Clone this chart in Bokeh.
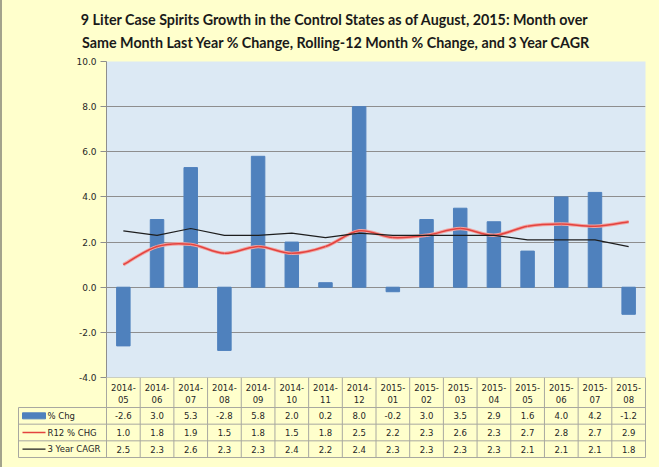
from bokeh.plotting import figure
from bokeh.models import FactorRange, Range1d, FixedTicker, NumeralTickFormatter
from bokeh.layouts import column
from bokeh.embed import file_html
from bokeh.resources import INLINE
from bokeh.core.properties import value
import numpy as np

# ---------------- data ----------------
months = ["2014-05", "2014-06", "2014-07", "2014-08", "2014-09", "2014-10", "2014-11", "2014-12",
          "2015-01", "2015-02", "2015-03", "2015-04", "2015-05", "2015-06", "2015-07", "2015-08"]
pct_chg = [-2.6, 3.0, 5.3, -2.8, 5.8, 2.0, 0.2, 8.0, -0.2, 3.0, 3.5, 2.9, 1.6, 4.0, 4.2, -1.2]
r12_chg = [1.0, 1.8, 1.9, 1.5, 1.8, 1.5, 1.8, 2.5, 2.2, 2.3, 2.6, 2.3, 2.7, 2.8, 2.7, 2.9]
cagr_3yr = [2.5, 2.3, 2.6, 2.3, 2.3, 2.4, 2.2, 2.4, 2.3, 2.3, 2.3, 2.3, 2.1, 2.1, 2.1, 1.8]
series_names = ["% Chg", "R12 % CHG", "3 Year CAGR"]
y_ticks = [-4, -2, 0, 2, 4, 6, 8, 10]
title_lines = ["9 Liter Case Spirits Growth in the Control States as of August, 2015:  Month over",
               "Same Month Last Year % Change, Rolling-12 Month % Change, and 3 Year CAGR"]

# ---------------- style ----------------
YELLOW = "#FFFFCC"
PLOT_BG = "#DCE9F4"
BAR = "#4F81BD"
RED = "#E3433F"
RED_HALO = "#F2A3A0"
DARK = "#1E1E1E"
GRID = "#8E8E8E"
TLINE = "#A8A8A0"
TXT = "#262626"
FONT = "DejaVu Sans"

W = 659
TITLE_H = 55
LEFT, RIGHT = 106, 14
FRAME_TOP, FRAME_BOT = 61, 377
TOP_PAD, BOT_PAD = FRAME_TOP - TITLE_H, 8
CH = TOP_PAD + (FRAME_BOT - FRAME_TOP) + BOT_PAD
TH = 90
n = len(months)


def bare(fig):
    fig.background_fill_color = None
    fig.border_fill_color = None
    fig.outline_line_color = None
    fig.xgrid.visible = False
    fig.ygrid.visible = False


# ---------------- title ----------------
tt = figure(width=W, height=TITLE_H, x_range=Range1d(0, W), y_range=Range1d(TITLE_H, 0),
            output_backend="svg", toolbar_location=None, title=None, x_axis_location=None,
            y_axis_location=None, min_border=0, align="start")
bare(tt)
tt.text(x=[336, 336], y=[19, 42], text=title_lines, text_align="center", text_baseline="middle",
        text_font=value("Lato"), text_font_size="14.3px", text_font_style="bold", text_color="#1A1A1A")

# ---------------- chart ----------------
p = figure(width=W, height=CH, x_range=FactorRange(factors=months), y_range=Range1d(-4, 10),
           output_backend="svg", toolbar_location=None, title=None, x_axis_location=None,
           min_border_left=LEFT, min_border_right=RIGHT, min_border_top=TOP_PAD,
           min_border_bottom=BOT_PAD, align="start")
p.background_fill_color = PLOT_BG
p.border_fill_color = None
p.outline_line_color = None
p.xgrid.visible = False
p.ygrid.ticker = FixedTicker(ticks=y_ticks)
p.ygrid.grid_line_color = GRID
p.yaxis.ticker = FixedTicker(ticks=y_ticks)
p.yaxis.formatter = NumeralTickFormatter(format="0.0")
p.yaxis.axis_line_color = GRID
p.yaxis.major_tick_line_color = GRID
p.yaxis.major_tick_out = 6
p.yaxis.major_tick_in = 0
p.yaxis.minor_tick_line_color = None
p.yaxis.major_label_standoff = 4
p.yaxis.major_label_text_font = FONT
p.yaxis.major_label_text_font_size = "9px"
p.yaxis.major_label_text_color = TXT

p.vbar(x=months, top=pct_chg, width=0.4, color=BAR)

# smoothed R12 line (Bezier segments through the data points)
xs = np.arange(n) + 0.5
ys = np.array(r12_chg, dtype=float)
idx = np.arange(n - 1)
im1 = np.clip(idx - 1, 0, n - 1)
ip2 = np.clip(idx + 2, 0, n - 1)
cx0 = xs[idx] + (xs[idx + 1] - xs[im1]) / 6.0
cy0 = ys[idx] + (ys[idx + 1] - ys[im1]) / 6.0
cx1 = xs[idx + 1] - (xs[ip2] - xs[idx]) / 6.0
cy1 = ys[idx + 1] - (ys[ip2] - ys[idx]) / 6.0
p.bezier(x0=xs[:-1], y0=ys[:-1], x1=xs[1:], y1=ys[1:], cx0=cx0, cy0=cy0, cx1=cx1, cy1=cy1,
         line_color=RED_HALO, line_width=3.4)
p.bezier(x0=xs[:-1], y0=ys[:-1], x1=xs[1:], y1=ys[1:], cx0=cx0, cy0=cy0, cx1=cx1, cy1=cy1,
         line_color=RED, line_width=1.5)

p.line(x=months, y=cagr_3yr, line_color=DARK, line_width=1.2)

# ---------------- data table ----------------
cw = (W - LEFT - RIGHT) / n
t = figure(width=W, height=TH, x_range=Range1d(-LEFT / cw, (W - LEFT) / cw), y_range=Range1d(TH, 0),
           output_backend="svg", toolbar_location=None, title=None, x_axis_location=None,
           y_axis_location=None, min_border=0, margin=(-BOT_PAD, 0, 0, 0), align="start")
bare(t)

lab_left = (18 - LEFT) / cw
row_edges = [30, 30 + 50 / 3, 30 + 100 / 3, 80]
row_mid = [(row_edges[i] + row_edges[i + 1]) / 2 for i in range(3)]

t.segment(x0=[0] + [lab_left] * 4, y0=[0] + row_edges, x1=[n] * 5, y1=[0] + row_edges,
          line_color=TLINE, line_width=1)
t.segment(x0=list(range(n + 1)) + [lab_left], y0=[0] * (n + 1) + [30],
          x1=list(range(n + 1)) + [lab_left], y1=[80] * (n + 2), line_color=TLINE, line_width=1)

tops = [m.split("-")[0] + "-" for m in months]
bots = [m.split("-")[1] for m in months]
t.text(x=xs, y=[10] * n, text=tops, text_align="center", text_baseline="middle",
       text_font=value(FONT), text_font_size="8.5px", text_color=TXT)
t.text(x=xs, y=[22] * n, text=bots, text_align="center", text_baseline="middle",
       text_font=value(FONT), text_font_size="8.5px", text_color=TXT)

for series, ym in zip([pct_chg, r12_chg, cagr_3yr], row_mid):
    t.text(x=xs, y=[ym] * n, text=[f"{v:.1f}" for v in series], text_align="center",
           text_baseline="middle", text_font=value(FONT), text_font_size="8.5px", text_color=TXT)

kx0, kx1 = (22 - LEFT) / cw, (45 - LEFT) / cw
t.quad(left=[kx0], right=[kx1], top=[row_mid[0] - 3], bottom=[row_mid[0] + 3], color=BAR)
t.segment(x0=[kx0], y0=[row_mid[1]], x1=[kx1], y1=[row_mid[1]], line_color=RED, line_width=1.5)
t.segment(x0=[kx0], y0=[row_mid[2]], x1=[kx1], y1=[row_mid[2]], line_color=DARK, line_width=1.2)
t.text(x=[(47 - LEFT) / cw] * 3, y=row_mid, text=series_names, text_align="left",
       text_baseline="middle", text_font=value(FONT), text_font_size="8.5px", text_color=TXT)

layout = column(column(tt), column(p), column(t), spacing=0,
                styles={"background-color": YELLOW, "box-shadow": "inset 2px 0 0 #A3A38C"})
open("out.html", "w").write(file_html(layout, INLINE))
